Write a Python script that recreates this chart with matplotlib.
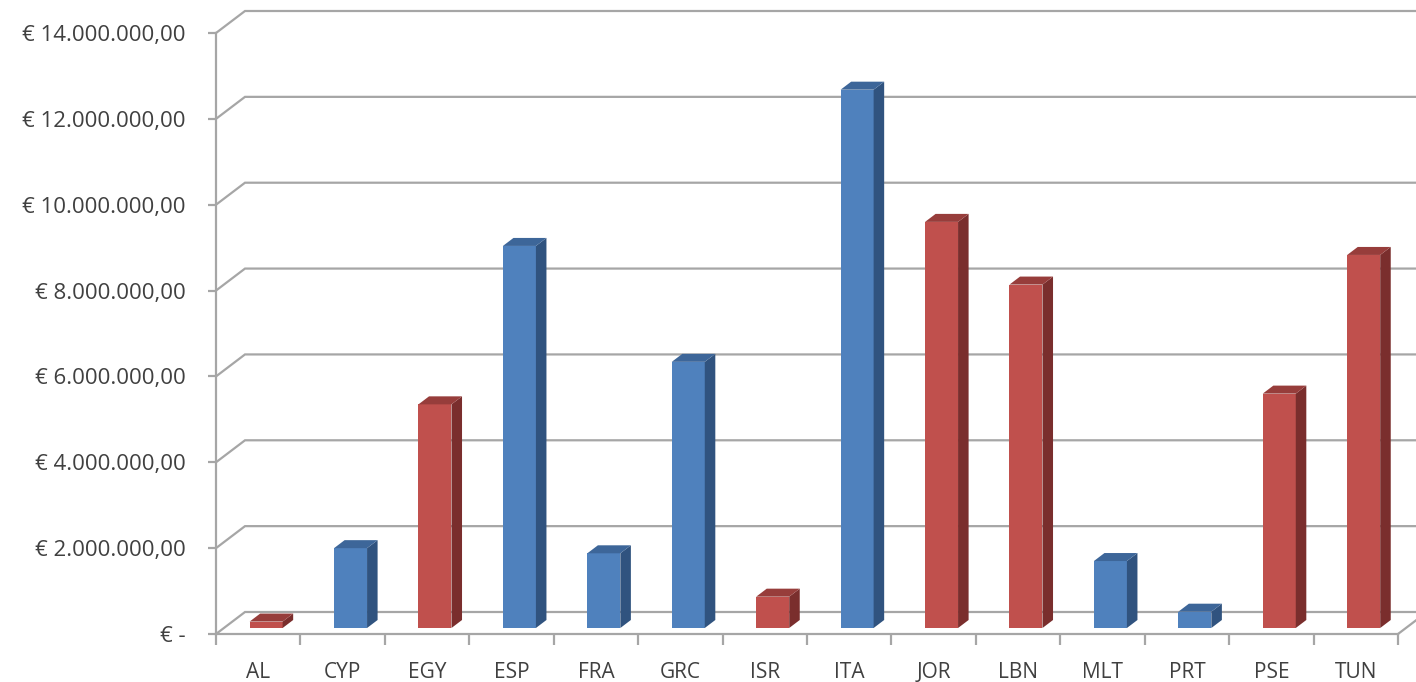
import matplotlib
matplotlib.use("Agg")
import matplotlib.pyplot as plt
from matplotlib.ticker import FuncFormatter

# dati (euro)
countries = ["AL", "CYP", "EGY", "ESP", "FRA", "GRC", "ISR",
             "ITA", "JOR", "LBN", "MLT", "PRT", "PSE", "TUN"]
amounts = [150000, 1860000, 5210000, 8900000, 1740000, 6200000, 730000,
           12540000, 9460000, 8000000, 1560000, 380000, 5460000, 8690000]
groups = ["MPC", "EU", "MPC", "EU", "EU", "EU", "MPC",
          "EU", "MPC", "MPC", "EU", "EU", "MPC", "MPC"]
yticks = [0, 2e6, 4e6, 6e6, 8e6, 10e6, 12e6, 14e6]

# (fronte, lato, sopra)
PALETTE = {
    "EU": ("#4f81bd", "#30537f", "#3d6699"),
    "MPC": ("#c0504d", "#7a2e2d", "#973d3b"),
}
GRID = "#a6a6a6"
TEXT = "#404040"
FONT = ["Open Sans", "DejaVu Sans"]

W, H, DPI = 1416, 682, 100
fig = plt.figure(figsize=(W / DPI, H / DPI), dpi=DPI)
fig.patch.set_facecolor("white")

# assi = piano frontale del grafico 3D
x0, x1, y0, y1 = 216, 1398, 634, 33
ax = fig.add_axes([x0 / W, (H - y0) / H, (x1 - x0) / W, (y0 - y1) / H])
n = len(countries)
ax.set_xlim(0, n)
ax.set_ylim(0, 14e6)

px_x = (x1 - x0) / n           # pixel per categoria
px_y = (y0 - y1) / 14e6        # pixel per euro
dx = 29 / px_x                 # profondita in unita dati
dy = 22 / px_y

# pareti: griglia obliqua + pavimento
for v in yticks:
    ax.plot([0, dx, n + 1], [v, v + dy, v + dy], color=GRID, lw=1.6,
            clip_on=False, zorder=1, solid_joinstyle="miter")
ax.plot([n, n + dx], [0, dy], color=GRID, lw=1.6, clip_on=False, zorder=1)

# barre pseudo-3D
f1, f2 = 6 / 22, 14 / 22
bw = 33 / px_x
centers = [i + 0.5 for i in range(n)]
for c, v, g in zip(centers, amounts, groups):
    front, side, top = PALETTE[g]
    xl = c - bw / 2 + f1 * dx
    xr = xl + bw
    yb = f1 * dy
    yt = v + f1 * dy
    ddx = (f2 - f1) * dx
    ddy = (f2 - f1) * dy
    ax.bar(c + f1 * dx, v, width=bw, bottom=yb, color=front, zorder=3,
           clip_on=False)
    ax.fill([xr, xr + ddx, xr + ddx, xr], [yb, yb + ddy, yt + ddy, yt],
            color=side, zorder=3, clip_on=False, lw=0)
    ax.fill([xl, xr, xr + ddx, xl + ddx], [yt, yt, yt + ddy, yt + ddy],
            color=top, zorder=3, clip_on=False, lw=0)


def euro(v, _pos):
    if v == 0:
        return "€ -"
    s = f"{v:,.2f}".replace(",", "X").replace(".", ",").replace("X", ".")
    return "€ " + s


ax.set_yticks(yticks)
ax.yaxis.set_major_formatter(FuncFormatter(euro))
ax.set_xticks(centers)
ax.set_xticklabels(countries)
ax.set_xticks(range(n + 1), minor=True)
ax.tick_params(axis="x", which="major", length=0, pad=20, labelsize=15,
               labelcolor=TEXT)
ax.tick_params(axis="x", which="minor", length=8, width=1.6, color=GRID)
ax.tick_params(axis="y", length=6, width=1.6, color=GRID, pad=16,
               labelsize=16, labelcolor=TEXT)
for lab in ax.get_xticklabels() + ax.get_yticklabels():
    lab.set_family(FONT)

for side_name in ("top", "right"):
    ax.spines[side_name].set_visible(False)
for side_name in ("left", "bottom"):
    ax.spines[side_name].set_color(GRID)
    ax.spines[side_name].set_linewidth(1.6)
ax.set_facecolor("none")

fig.savefig("out.png", dpi=DPI)
